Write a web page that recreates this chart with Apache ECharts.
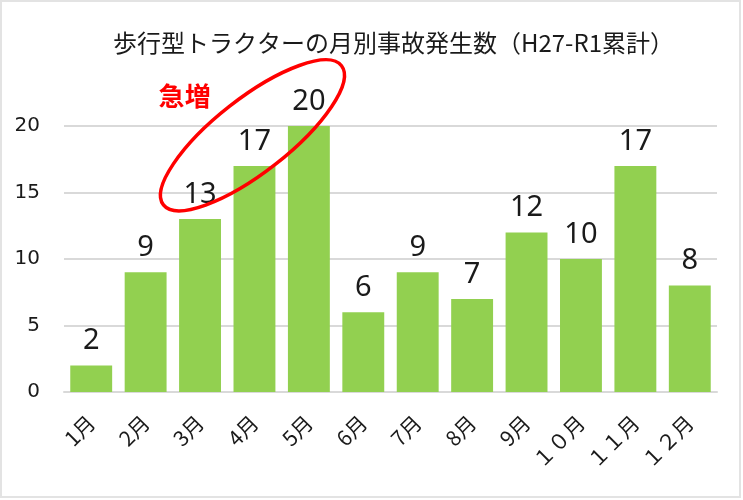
<!DOCTYPE html>
<html><head><meta charset="utf-8">
<script src="https://cdn.jsdelivr.net/npm/echarts@6/dist/echarts.min.js"></script>
<style>html,body{margin:0;padding:0;background:#fff}#c{width:743px;height:500px}</style>
</head><body><div id="c"></div>
<script>
var categories = ['1月','2月','3月','4月','5月','6月','7月','8月','9月','１０月','１１月','１２月'];
var values = [2, 9, 13, 17, 20, 6, 9, 7, 12, 10, 17, 8];
var yTicks = [0, 5, 10, 15, 20];
var titleText = '歩行型トラクターの月別事故発生数（H27-R1累計）';
var noteText = '急増';

var chart = echarts.init(document.getElementById('c'));
var font = '"Noto Sans CJK JP", "Noto Sans", sans-serif';
chart.setOption({
  animation: false,
  title: {
    text: titleText, left: 108, top: 26,
    textStyle: {fontFamily: font, fontSize: 24, fontWeight: 'normal', color: '#1a1a1a'}
  },
  grid: {left: 64, right: 26, top: 126, bottom: 108},
  xAxis: {
    type: 'category', data: categories,
    axisLine: {lineStyle: {color: '#d9d9d9', width: 2}},
    axisTick: {show: false},
    axisLabel: {rotate: 45, fontFamily: font, fontSize: 21, color: '#1a1a1a', margin: 27, interval: 0}
  },
  yAxis: {
    type: 'value', min: yTicks[0], max: yTicks[yTicks.length-1], interval: 5,
    axisLine: {show: false}, axisTick: {show: false},
    splitLine: {lineStyle: {color: '#d9d9d9', width: 2}},
    axisLabel: {fontFamily: '"DejaVu Sans", sans-serif', fontSize: 20, color: '#1a1a1a', margin: 24}
  },
  series: [{
    type: 'bar', data: values, barCategoryGap: '23%',
    itemStyle: {color: '#92D050'},
    label: {show: true, position: 'top', distance: 10, fontFamily: '"Noto Sans", sans-serif', fontSize: 29, color: '#1a1a1a'}
  }]
});

var pc = chart.convertToPixel({seriesIndex: 0}, [3, 19.3]);
var pN = chart.convertToPixel({seriesIndex: 0}, [1, values[4]]);
chart.setOption({
  graphic: [
    {type: 'rect', shape: {x: 1, y: 1, width: 739, height: 496}, style: {fill: null, stroke: '#e3e3e3', lineWidth: 2}, silent: true},
    {type: 'ellipse', x: pc[0] - 2, y: pc[1], rotation: 38 * Math.PI / 180,
     shape: {cx: 0, cy: 0, rx: 113, ry: 37},
     style: {fill: null, stroke: '#ff0000', lineWidth: 3.5}, z: 100},
    {type: 'text', x: pN[0] + 39, y: 96,
     style: {text: noteText, fill: '#ff0000', font: 'bold 26px ' + font, textAlign: 'center', textVerticalAlign: 'middle'}, z: 100}
  ]
});
</script></body></html>
